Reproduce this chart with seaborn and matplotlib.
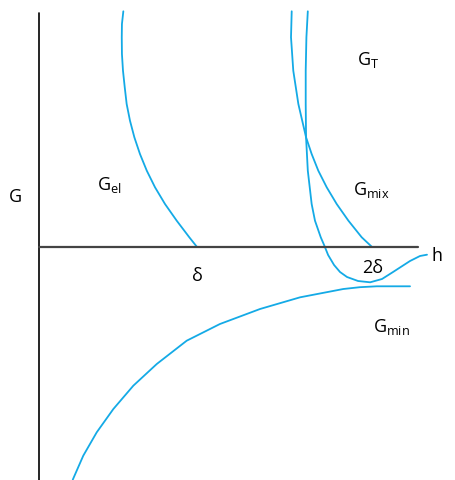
import matplotlib
matplotlib.use("Agg")
import matplotlib.pyplot as plt
import seaborn as sns
import pandas as pd

sns.set_theme(style="white")
plt.rcParams["font.family"] = ["Open Sans", "DejaVu Sans"]
plt.rcParams["mathtext.fontset"] = "custom"
plt.rcParams["mathtext.rm"] = "Open Sans"
plt.rcParams["mathtext.it"] = "Open Sans:italic"

# Free-energy curves vs. separation h (h in units of delta)
gel_h = [0.579, 0.571, 0.570, 0.571, 0.577, 0.587, 0.598, 0.617, 0.642,
         0.674, 0.713, 0.760, 0.817, 0.884, 0.956, 1.000]
gel_g = [2.357, 2.23, 2.097, 1.93, 1.763, 1.597, 1.43, 1.263, 1.097,
         0.93, 0.763, 0.597, 0.43, 0.263, 0.097, 0.0]

gmix_h = [1.541, 1.537, 1.550, 1.579, 1.623, 1.655, 1.693, 1.741, 1.798,
          1.865, 1.941, 2.000]
gmix_g = [2.357, 2.097, 1.763, 1.43, 1.097, 0.93, 0.763, 0.597, 0.43,
          0.263, 0.097, 0.0]

gt_h = [1.633, 1.625, 1.621, 1.621, 1.623, 1.633, 1.655, 1.674, 1.707,
        1.726, 1.749, 1.783, 1.817, 1.857, 1.920, 1.989, 2.057, 2.120,
        2.217, 2.274, 2.314]
gt_g = [2.357, 2.097, 1.763, 1.43, 1.097, 0.763, 0.43, 0.263, 0.097,
        0.02, -0.08, -0.18, -0.25, -0.30, -0.34, -0.353, -0.32, -0.25,
        -0.14, -0.09, -0.077]

gmin_h = [0.290, 0.350, 0.427, 0.522, 0.636, 0.770, 0.941, 1.131, 1.360,
          1.589, 1.836, 1.930, 2.027, 2.217]
gmin_g = [-2.327, -2.087, -1.853, -1.62, -1.387, -1.17, -0.937, -0.77, -0.62,
          -0.503, -0.42, -0.402, -0.393, -0.393]

curves = {"el": (gel_h, gel_g), "mix": (gmix_h, gmix_g),
          "T": (gt_h, gt_g), "min": (gmin_h, gmin_g)}

frames = []
for name, (hs, gs) in curves.items():
    frames.append(pd.DataFrame({"h": hs, "G": gs, "curve": name}))
df = pd.concat(frames, ignore_index=True)

fig = plt.figure(figsize=(4.55, 4.81), dpi=100)
ax = fig.add_axes([0, 0, 1, 1])
blue = "#14AAE6"
sns.lineplot(data=df, x="h", y="G", units="curve", estimator=None, sort=False,
             color=blue, linewidth=1.3, ax=ax, legend=False,
             solid_joinstyle="round", solid_capstyle="round")

# axes drawn as plain lines
h_axis_x = 0.097
ax.plot([h_axis_x, h_axis_x], [2.34, -2.33], color="black", linewidth=1.2)
ax.plot([h_axis_x, 2.263], [0, 0], color="#444444", linewidth=1.6)

ax.set_xlim(-0.1257, 2.474)
ax.set_ylim(-2.33, 2.48)
ax.axis("off")

fs = 13
tc = "black"
ax.text(-0.04, 0.51, "G", fontsize=fs, color=tc, ha="center", va="center")
ax.text(0.429, 0.63, r"G$_\mathrm{el}$", fontsize=fs, color=tc, ha="left", va="center")
ax.text(1.0, -0.28, "δ", fontsize=fs, color=tc, ha="center", va="center")
ax.text(1.914, 1.88, r"G$_\mathrm{T}$", fontsize=fs, color=tc, ha="left", va="center")
ax.text(1.891, 0.58, r"G$_\mathrm{mix}$", fontsize=fs, color=tc, ha="left", va="center")
ax.text(2.371, -0.08, "h", fontsize=fs, color=tc, ha="center", va="center")
ax.text(2.006, -0.20, "2δ", fontsize=fs, color=tc, ha="center", va="center")
ax.text(2.006, -0.79, r"G$_\mathrm{min}$", fontsize=fs, color=tc, ha="left", va="center")

fig.savefig("out.png", dpi=100)
